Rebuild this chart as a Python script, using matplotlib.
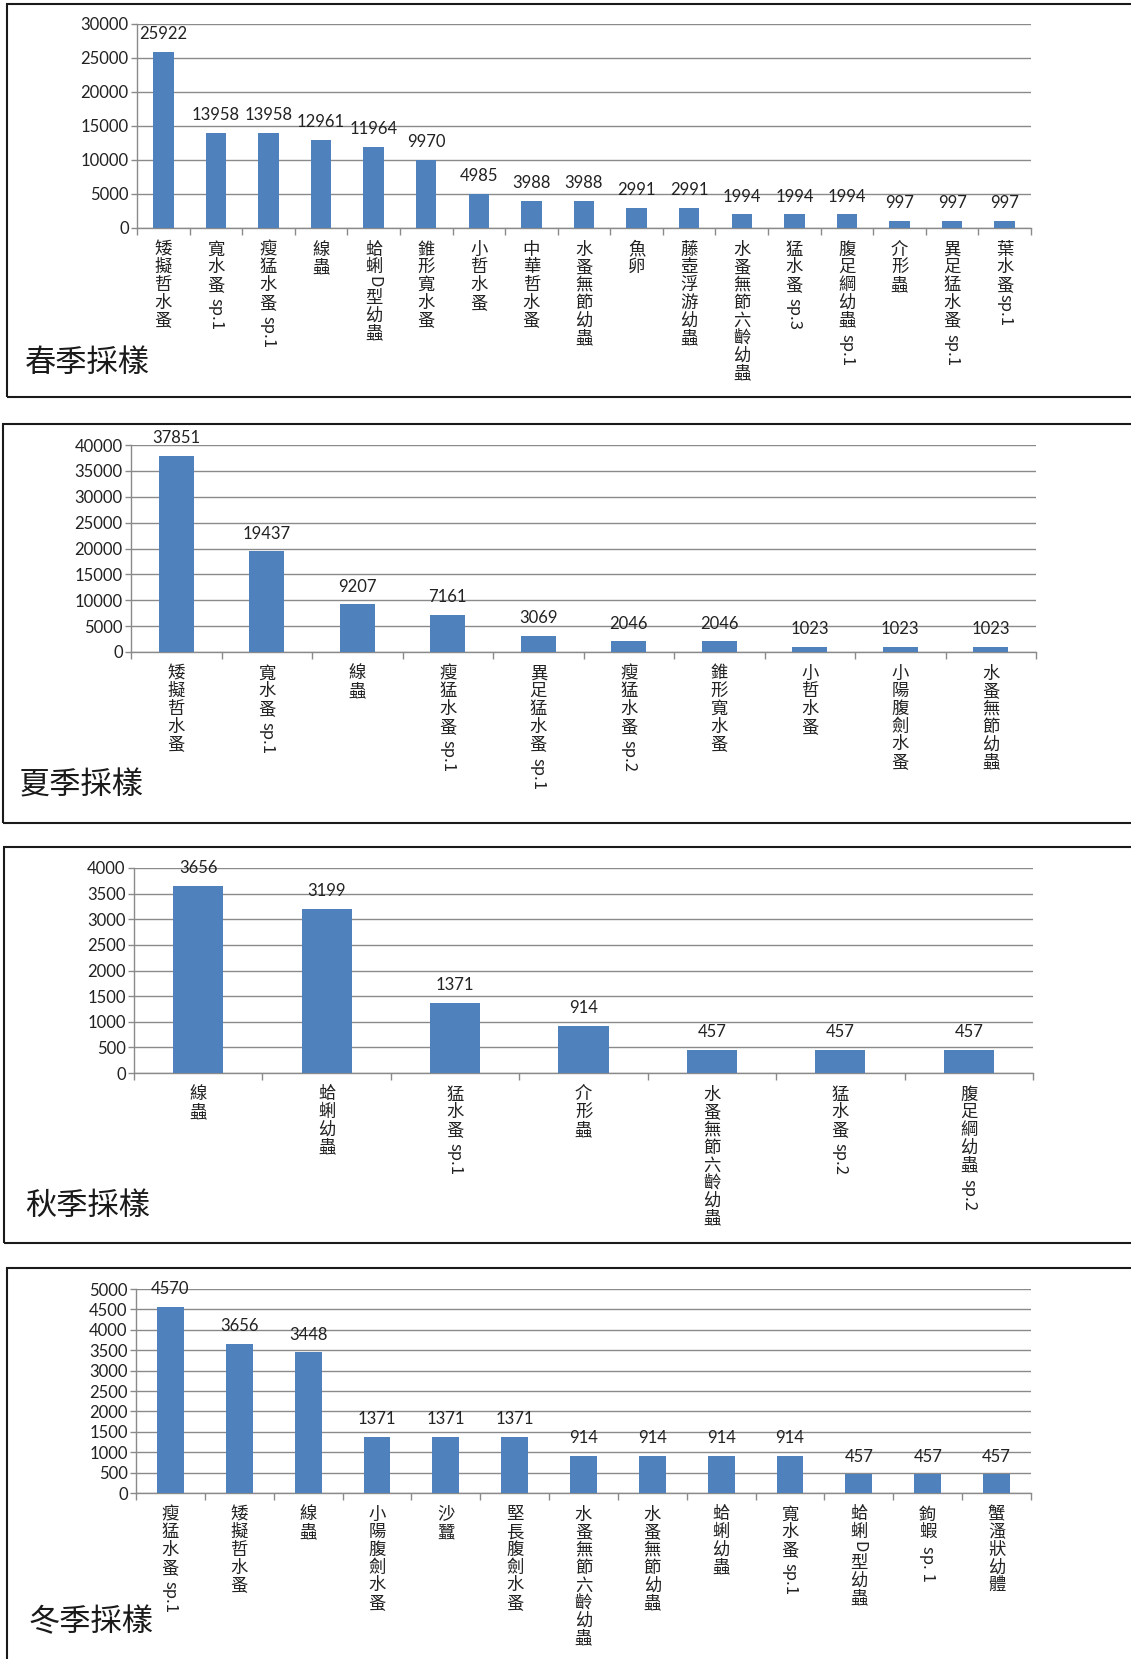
import matplotlib
matplotlib.use("Agg")
import matplotlib.pyplot as plt
from matplotlib.patches import Rectangle
import numpy as np

plt.rcParams['font.family'] = ['Lato', 'Noto Sans CJK TC', 'DejaVu Sans']

# ---------------- data ----------------
spring_labels = ['矮擬哲水蚤', '寬水蚤 sp.1', '瘦猛水蚤 sp.1', '線蟲', '蛤蜊D型幼蟲', '錐形寬水蚤',
                 '小哲水蚤', '中華哲水蚤', '水蚤無節幼蟲', '魚卵', '藤壺浮游幼蟲', '水蚤無節六齡幼蟲',
                 '猛水蚤 sp.3', '腹足綱幼蟲 sp.1', '介形蟲', '異足猛水蚤 sp.1', '葉水蚤sp.1']
spring_values = [25922, 13958, 13958, 12961, 11964, 9970, 4985, 3988, 3988, 2991, 2991,
                 1994, 1994, 1994, 997, 997, 997]

summer_labels = ['矮擬哲水蚤', '寬水蚤 sp.1', '線蟲', '瘦猛水蚤 sp.1', '異足猛水蚤 sp.1',
                 '瘦猛水蚤 sp.2', '錐形寬水蚤', '小哲水蚤', '小陽腹劍水蚤', '水蚤無節幼蟲']
summer_values = [37851, 19437, 9207, 7161, 3069, 2046, 2046, 1023, 1023, 1023]

autumn_labels = ['線蟲', '蛤蜊幼蟲', '猛水蚤 sp.1', '介形蟲', '水蚤無節六齡幼蟲', '猛水蚤 sp.2',
                 '腹足綱幼蟲 sp.2']
autumn_values = [3656, 3199, 1371, 914, 457, 457, 457]

winter_labels = ['瘦猛水蚤 sp.1', '矮擬哲水蚤', '線蟲', '小陽腹劍水蚤', '沙蠶', '堅長腹劍水蚤',
                 '水蚤無節六齡幼蟲', '水蚤無節幼蟲', '蛤蜊幼蟲', '寬水蚤 sp.1', '蛤蜊D型幼蟲',
                 '鉤蝦 sp. 1', '蟹溞狀幼體']
winter_values = [4570, 3656, 3448, 1371, 1371, 1371, 914, 914, 914, 914, 457, 457, 457]

titles = ['春季採樣', '夏季採樣', '秋季採樣', '冬季採樣']
y_max = [30000, 40000, 4000, 5000]
y_step = [5000, 5000, 500, 500]

# ---------------- layout (pixels of the 1131x1659 canvas) ----------------
W, H = 1131, 1659
DPI = 100
axes_px = [(137, 1031, 24, 228), (131, 1036, 445, 652), (134, 1033, 868, 1073), (136, 1031, 1289, 1493)]
frames_px = [(7, 4, 397), (3, 424, 823), (4, 847, 1243), (7, 1268, 1670)]
title_px = [(25, 363), (19, 785), (25, 1206), (29, 1622)]

BAR = '#4F81BD'
GRID = '#8a8a8a'
FS = 12
LFS = 12.5

fig = plt.figure(figsize=(W / DPI, H / DPI), dpi=DPI)
fig.patch.set_facecolor('white')
renderer = fig.canvas.get_renderer()


def tokens(label):
    out = []
    buf = ''
    for ch in label:
        if ord(ch) < 128:
            buf += ch
        else:
            if buf:
                out.append((buf, True))
                buf = ''
            out.append((ch, False))
    if buf:
        out.append((buf, True))
    return out


def vertical_label(ax, x, label):
    off = 9.0
    step = LFS * 1.02
    for tok, latin in tokens(label):
        if latin:
            lead = len(tok) - len(tok.lstrip(' '))
            off += lead * LFS * 0.28
            t = ax.annotate(tok.strip(), xy=(x, 0), xycoords=ax.get_xaxis_transform(),
                            xytext=(0, -off), textcoords='offset points', rotation=-90,
                            ha='center', va='top', fontsize=LFS - 0.5,
                            family=['Noto Sans CJK TC'], color='#222222', annotation_clip=False)
            bb = t.get_window_extent(renderer)
            off += bb.height * 72 / DPI + 1
        else:
            ax.annotate(tok, xy=(x, 0), xycoords=ax.get_xaxis_transform(),
                        xytext=(0, -off), textcoords='offset points',
                        ha='center', va='top', fontsize=LFS,
                        family=['Noto Sans CJK TC'], color='#222222', annotation_clip=False)
            off += step


datasets = [(spring_labels, spring_values), (summer_labels, summer_values),
            (autumn_labels, autumn_values), (winter_labels, winter_values)]

for k, (labels, values) in enumerate(datasets):
    l, r, t, b = axes_px[k]
    ax = fig.add_axes([l / W, 1 - b / H, (r - l) / W, (b - t) / H])
    n = len(labels)
    x = np.arange(n)
    bars = ax.bar(x, values, width=0.39, color=BAR, zorder=3)
    ax.set_xlim(-0.5, n - 0.5)
    ax.set_ylim(0, y_max[k])
    ax.set_yticks(np.arange(0, y_max[k] + 1, y_step[k]))
    ax.yaxis.grid(True, color=GRID, linewidth=1.0, zorder=0)
    ax.set_axisbelow(True)
    ax.tick_params(axis='y', length=4, width=1.0, color=GRID, pad=2, labelsize=FS, labelcolor='#222222')
    ax.set_xticks(np.arange(-0.5, n, 1.0))
    ax.set_xticklabels([])
    ax.tick_params(axis='x', length=5, width=1.0, color=GRID, direction='out')
    for s in ['top', 'right']:
        ax.spines[s].set_visible(False)
    for s in ['left', 'bottom']:
        ax.spines[s].set_color(GRID)
        ax.spines[s].set_linewidth(1.0)
    for xi, v in zip(x, values):
        ax.annotate(str(v), xy=(xi, v), xytext=(0, 7), textcoords='offset points',
                    ha='center', va='bottom', fontsize=FS, color='#222222', annotation_clip=False)
    for xi, lab in zip(x, labels):
        vertical_label(ax, xi, lab)

    fl, ft, fb = frames_px[k]
    fig.add_artist(Rectangle((fl / W, 1 - fb / H), 1.05, (fb - ft) / H, transform=fig.transFigure,
                             fill=False, edgecolor='#1a1a1a', linewidth=1.5, clip_on=False))
    tx, ty = title_px[k]
    fig.text(tx / W, 1 - ty / H, titles[k], fontsize=22.5, family=['Noto Sans CJK TC'],
             ha='left', va='center', color='#1a1a1a')

fig.savefig('out.png', dpi=DPI, facecolor='white')
